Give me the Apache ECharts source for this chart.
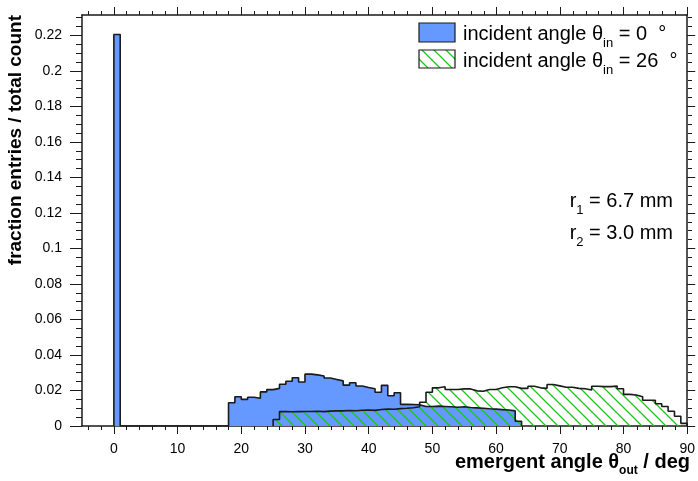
<!DOCTYPE html>
<html>
<head>
<meta charset="utf-8">
<script src="https://cdn.jsdelivr.net/npm/echarts@6/dist/echarts.min.js"></script>
<style>
  html, body { margin: 0; padding: 0; background: #fff; }
  #chart { width: 698px; height: 481px; }
</style>
</head>
<body>
<div id="chart"></div>
<script>
// 1 deg bins, fraction of entries per bin
var blueStart = 0;
var blueValues = [
  0.2205, 0, 0, 0, 0, 0, 0, 0, 0, 0,                                               // 0..9
  0, 0, 0, 0, 0, 0, 0, 0,                                                          // 10..17
  0.0131, 0.0165, 0.0150, 0.0162, 0.0156, 0.0192, 0.0205, 0.0212, 0.0235, 0.0252, // 18..27
  0.0272, 0.0248, 0.0292, 0.0288, 0.0282, 0.0270, 0.0262, 0.0254, 0.0230, 0.0244, // 28..37
  0.0225, 0.0217, 0.0210, 0.0190, 0.0229, 0.0170, 0.0187, 0.0122, 0.0121, 0.0120, // 38..47
  0.0110, 0.0110, 0.0112, 0.0110, 0.0108, 0.0106, 0.0108, 0.0104, 0.0102, 0.0100, // 48..57
  0.0097, 0.0095, 0.0092, 0.0090, 0.0085, 0.0027                                   // 58..63
];
var greenStart = 25;
var greenValues = [
  0.0037, 0.0081, 0.0080, 0.0081, 0.0082, 0.0082, 0.0083, 0.0081, 0.0084, 0.0085, // 25..34
  0.0085, 0.0087, 0.0086, 0.0089, 0.0090, 0.0088, 0.0093, 0.0095, 0.0094, 0.0098, // 35..44
  0.0100, 0.0103, 0.0108, 0.0134, 0.0190, 0.0215, 0.0221, 0.0206, 0.0206, 0.0209, // 45..54
  0.0209, 0.0198, 0.0196, 0.0206, 0.0206, 0.0215, 0.0221, 0.0221, 0.0212, 0.0212, // 55..64
  0.0224, 0.0215, 0.0212, 0.0234, 0.0226, 0.0218, 0.0218, 0.0212, 0.0210, 0.0203, // 65..74
  0.0224, 0.0222, 0.0222, 0.0225, 0.0210, 0.0178, 0.0175, 0.0165, 0.0145, 0.0145, // 75..84
  0.0125, 0.0110, 0.0083, 0.0055, 0.0015                                           // 85..89
];

var xMajor = [0, 10, 20, 30, 40, 50, 60, 70, 80, 90];
var xMinor = [-4, -2, 2, 4, 6, 8, 12, 14, 16, 18, 22, 24, 26, 28, 32, 34, 36, 38,
  42, 44, 46, 48, 52, 54, 56, 58, 62, 64, 66, 68, 72, 74, 76, 78, 82, 84, 86, 88];
var yMajor = [0, 0.02, 0.04, 0.06, 0.08, 0.1, 0.12, 0.14, 0.16, 0.18, 0.2, 0.22];
var yMinor = [0.005, 0.01, 0.015, 0.025, 0.03, 0.035, 0.045, 0.05, 0.055, 0.065, 0.07, 0.075,
  0.085, 0.09, 0.095, 0.105, 0.11, 0.115, 0.125, 0.13, 0.135, 0.145, 0.15, 0.155,
  0.165, 0.17, 0.175, 0.185, 0.19, 0.195, 0.205, 0.21, 0.215, 0.225, 0.23];

var font = 'Liberation Sans, Arial, Helvetica, sans-serif';
var ink = '#1a1a1a';

// step outline of a histogram, left bin edges
function hist(start, values) {
  var pts = [[start, 0]];
  for (var i = 0; i < values.length; i++) pts.push([start + i, values[i]]);
  pts.push([start + values.length, 0]);
  return pts;
}

// diagonal hatch tile
var tile = document.createElement('canvas');
tile.width = 12; tile.height = 12;
var c = tile.getContext('2d');
c.strokeStyle = '#19c819';
c.lineWidth = 1.3;
c.beginPath();
c.moveTo(-2, -2); c.lineTo(14, 14);
c.moveTo(-14, -2); c.lineTo(2, 14);
c.moveTo(10, -2); c.lineTo(26, 14);
c.stroke();
var hatch = { image: tile, repeat: 'repeat' };

function xAx(grid, pos, vals, len, labels) {
  return {
    type: 'value', gridIndex: grid, position: pos, min: -5, max: 90,
    axisLine: { show: grid === 0, onZero: false, lineStyle: { color: ink, width: 1.5 } },
    axisTick: { show: true, customValues: vals, length: len, lineStyle: { color: ink, width: 1 } },
    axisLabel: labels ? { customValues: vals, margin: 16, fontSize: 14, color: '#000', fontFamily: font } : { show: false },
    splitLine: { show: false }
  };
}
function yAx(grid, pos, vals, len, labels) {
  return {
    type: 'value', gridIndex: grid, position: pos, min: 0, max: 0.2315,
    axisLine: { show: grid === 0, onZero: false, lineStyle: { color: ink, width: 1.5 } },
    axisTick: { show: true, customValues: vals, length: len, lineStyle: { color: ink, width: 1 } },
    axisLabel: labels ? {
      customValues: vals, margin: 20, fontSize: 14, color: '#000', fontFamily: font,
      formatter: function (v) { return String(+(+v).toFixed(3)); }
    } : { show: false },
    splitLine: { show: false }
  };
}

var sub = function (size, pad) {
  return { fontSize: size, fontFamily: font, color: '#000', verticalAlign: 'top', lineHeight: size, padding: [pad, 0, 0, 0] };
};
var mainTxt = { fontSize: 20, fontFamily: font, color: '#000', verticalAlign: 'top', lineHeight: 22 };

var chart = echarts.init(document.getElementById('chart'), null, { renderer: 'canvas' });
chart.setOption({
  animation: false,
  backgroundColor: '#fff',
  grid: [
    { left: 82, right: 10, top: 15, bottom: 55 },
    { left: 82, right: 10, top: 15, bottom: 55 }
  ],
  xAxis: [
    xAx(0, 'bottom', xMajor, 8, true),
    xAx(0, 'top', xMajor, 8, false),
    xAx(1, 'bottom', xMinor, 4, false),
    xAx(1, 'top', xMinor, 4, false)
  ],
  yAxis: [
    yAx(0, 'left', yMajor, 12, true),
    yAx(0, 'right', yMajor, 8, false),
    yAx(1, 'left', yMinor, 6, false),
    yAx(1, 'right', yMinor, 4, false)
  ],
  series: [
    {
      name: 'incident angle 0', type: 'line', step: 'end', xAxisIndex: 0, yAxisIndex: 0,
      data: hist(blueStart, blueValues), symbol: 'none',
      lineStyle: { color: ink, width: 1.6 },
      areaStyle: { color: '#6699ff', opacity: 1 }
    },
    {
      name: 'incident angle 26', type: 'line', step: 'end', xAxisIndex: 0, yAxisIndex: 0,
      data: hist(greenStart, greenValues), symbol: 'none',
      lineStyle: { color: ink, width: 1.6 },
      areaStyle: { color: hatch, opacity: 1 }
    }
  ],
  graphic: [
    { type: 'rect', shape: { x: 419, y: 23, width: 36, height: 19 }, style: { fill: '#6699ff', stroke: ink, lineWidth: 1.2 } },
    { type: 'rect', shape: { x: 419, y: 50, width: 36, height: 18 }, style: { fill: hatch, stroke: ink, lineWidth: 1.2 } },
    { type: 'text', x: 463, y: 24, style: { text: '{t|incident angle θ}{s|in}{t| = 0  °}', rich: { t: mainTxt, s: sub(13, 13) } } },
    { type: 'text', x: 463, y: 51, style: { text: '{t|incident angle θ}{s|in}{t| = 26  °}', rich: { t: mainTxt, s: sub(13, 13) } } },
    { type: 'text', x: 673, y: 191, style: { text: '{t|r}{s|1}{t| = 6.7 mm}', align: 'right', rich: { t: mainTxt, s: sub(13, 13) } } },
    { type: 'text', x: 673, y: 223, style: { text: '{t|r}{s|2}{t| = 3.0 mm}', align: 'right', rich: { t: mainTxt, s: sub(13, 13) } } },
    {
      type: 'text', x: 690, y: 452,
      style: {
        text: '{t|emergent angle θ}{s|out}{t| / deg}', align: 'right',
        rich: {
          t: { fontSize: 20, fontWeight: 'bold', fontFamily: font, color: '#000', verticalAlign: 'top', lineHeight: 21 },
          s: { fontSize: 12, fontWeight: 'bold', fontFamily: font, color: '#000', verticalAlign: 'top', lineHeight: 12, padding: [13, 0, 0, 0] }
        }
      }
    },
    {
      type: 'text', x: 16, y: 15, rotation: Math.PI / 2,
      style: {
        text: 'fraction entries / total count', align: 'right', verticalAlign: 'middle',
        font: 'bold 19px ' + font, fill: '#000'
      }
    }
  ]
});
</script>
</body>
</html>
